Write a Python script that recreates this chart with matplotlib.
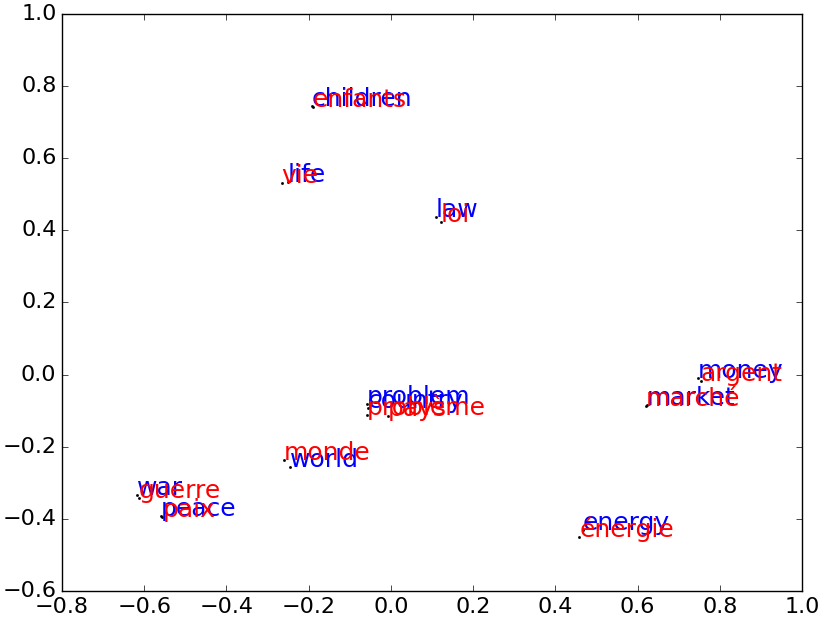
import matplotlib
matplotlib.use("Agg")
import matplotlib.pyplot as plt

plt.style.use("classic")

en_words = ["children", "life", "law", "problem", "country", "money",
            "market", "world", "war", "peace", "energy"]
en_x = [-0.193, -0.250, 0.109, -0.058, -0.056, 0.747, 0.623, -0.245, -0.617, -0.559, 0.467]
en_y = [0.746, 0.535, 0.437, -0.082, -0.092, -0.010, -0.084, -0.257, -0.334, -0.393, -0.430]

fr_words = ["enfants", "vie", "loi", "problème", "pays", "argent",
            "marché", "monde", "guerre", "paix", "énergie"]
fr_x = [-0.190, -0.266, 0.121, -0.058, -0.007, 0.754, 0.620, -0.260, -0.613, -0.556, 0.458]
fr_y = [0.743, 0.532, 0.424, -0.111, -0.115, -0.017, -0.087, -0.236, -0.343, -0.396, -0.450]

xticks = [-0.8, -0.6, -0.4, -0.2, 0.0, 0.2, 0.4, 0.6, 0.8, 1.0]
yticks = [-0.6, -0.4, -0.2, 0.0, 0.2, 0.4, 0.6, 0.8, 1.0]

fig = plt.figure(figsize=(8.3, 6.21), dpi=100, facecolor="white")
ax = fig.add_axes([0.0747, 0.0483, 0.8916, 0.9292])

ax.plot(en_x, en_y, "k.", markersize=3)
for w, x, y in zip(en_words, en_x, en_y):
    ax.annotate(w, (x, y), color="b", fontsize=18)
ax.plot(fr_x, fr_y, "k.", markersize=3)
for w, x, y in zip(fr_words, fr_x, fr_y):
    ax.annotate(w, (x, y), color="r", fontsize=18)

ax.set_xlim(-0.8, 1.0)
ax.set_ylim(-0.6, 1.0)
ax.set_xticks(xticks)
ax.set_yticks(yticks)
ax.set_xticklabels([f"{t:.1f}".replace("-", "\u2212") for t in xticks])
ax.set_yticklabels([f"{t:.1f}".replace("-", "\u2212") for t in yticks])
ax.tick_params(labelsize=16)

fig.savefig("out.png", dpi=100, facecolor="white")
